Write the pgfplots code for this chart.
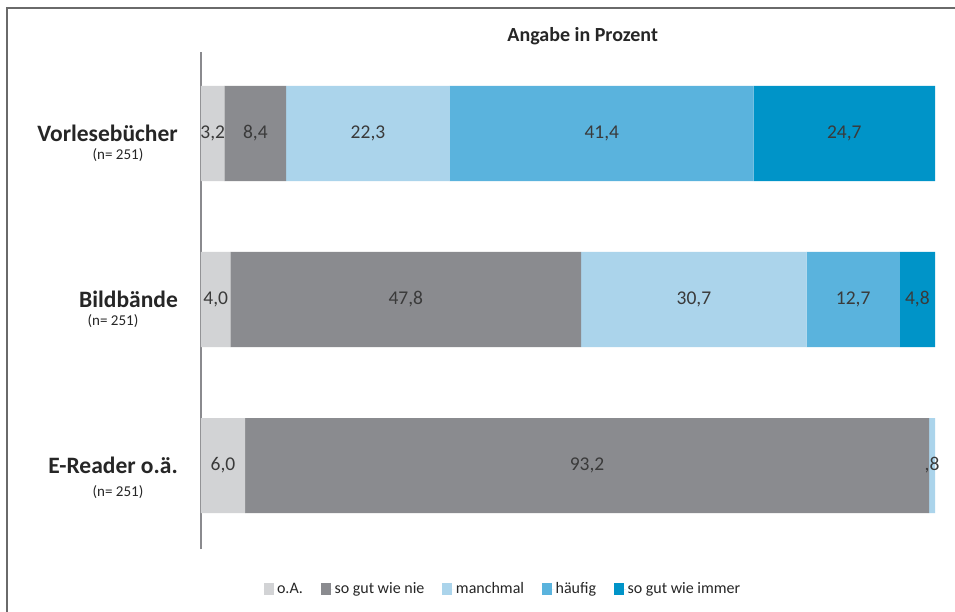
\documentclass[border=0pt]{standalone}
\usepackage{fontspec}
\setmainfont{Carlito}
\usepackage{pgfplots}
\usepackage{pgfplotstable}
\pgfplotsset{compat=1.18}

\definecolor{cOA}{HTML}{D2D3D5}
\definecolor{cNie}{HTML}{8A8B8F}
\definecolor{cManch}{HTML}{ABD4EB}
\definecolor{cHaeuf}{HTML}{5AB3DD}
\definecolor{cImmer}{HTML}{0094C8}
\definecolor{cFrame}{HTML}{6A6A6A}
\definecolor{cAxis}{HTML}{8A8A8E}
\definecolor{cText}{HTML}{262626}
\definecolor{cVal}{HTML}{3A3A3A}

% y: 2 = Vorlesebücher, 1 = Bildbände, 0 = E-Reader o.ä.
\pgfplotstableread{
y v
2 3.2
1 4.0
0 6.0
}\tOA
\pgfplotstableread{
y v
2 8.4
1 47.8
0 93.2
}\tNie
\pgfplotstableread{
y v
2 22.3
1 30.7
0 0.8
}\tManch
\pgfplotstableread{
y v
2 41.4
1 12.7
}\tHaeuf
\pgfplotstableread{
y v
2 24.7
1 4.8
}\tImmer

% common geometry of the bar axis and the label layer
\pgfplotsset{frame geometry/.style={
  at={(0,0)}, anchor=south west,
  scale only axis,
  width=734bp, height=497bp,
  xmin=0, xmax=100,
  ymin=-0.503, ymax=2.491,
  clip=false}}

\begin{document}
\begin{tikzpicture}[x=1bp,y=1bp]
\useasboundingbox (-201bp,-63bp) rectangle (754bp,549bp);
\fill[white] (-201bp,-63bp) rectangle (754bp,549bp);
\draw[cFrame, line width=2bp] (-194bp,-70bp) -- (-194bp,541bp) -- (760bp,541bp);
\begin{axis}[
  frame geometry,
  xbar stacked,
  bar width=95bp,
  axis x line=none,
  axis y line*=left,
  y axis line style={cAxis, line width=1.6bp, -},
  ytick={0,1,2},
  yticklabels={E-Reader o.ä., Bildbände, Vorlesebücher},
  ytick style={draw=none},
  yticklabel style={font=\fontsize{23.5bp}{26bp}\selectfont\bfseries, text=cText,
    anchor=east, inner sep=0pt, xshift=-23bp},
  title={Angabe in Prozent},
  title style={font=\fontsize{20bp}{23bp}\selectfont\bfseries, text=cText,
    at={(0.52,1.020)}, anchor=center, inner sep=0pt},
  legend columns=5,
  legend style={draw=none, fill=none,
    at={(0.411,-0.0805)}, anchor=center,
    font=\fontsize{16bp}{19bp}\selectfont, text=cText,
    /tikz/every even column/.append style={column sep=16.5bp},
    nodes={inner sep=1.5bp}},
  legend image code/.code={\fill[#1] (0bp,-6bp) rectangle (10bp,6bp);
    \path (0bp,0bp) -- (12bp,0bp);},
]
\addplot[fill=cOA, draw=none] table[x=v, y=y] {\tOA};
\addplot[fill=cNie, draw=none] table[x=v, y=y] {\tNie};
\addplot[fill=cManch, draw=none] table[x=v, y=y] {\tManch};
\addplot[fill=cHaeuf, draw=none] table[x=v, y=y] {\tHaeuf};
\addplot[fill=cImmer, draw=none] table[x=v, y=y] {\tImmer};
\legend{o.A., so gut wie nie, manchmal, häufig, so gut wie immer}

\node[font=\fontsize{15bp}{18bp}\selectfont, text=cText] at (axis cs:0,2) [xshift=-83bp, yshift=-21.5bp] {(n= 251)};
\node[font=\fontsize{15bp}{18bp}\selectfont, text=cText] at (axis cs:0,1) [xshift=-88bp, yshift=-21.5bp] {(n= 251)};
\node[font=\fontsize{15bp}{18bp}\selectfont, text=cText] at (axis cs:0,0) [xshift=-83bp, yshift=-26.5bp] {(n= 251)};
\end{axis}

% value labels, each in the middle of its segment
\begin{axis}[
  frame geometry,
  hide axis,
  point meta=explicit symbolic,
  nodes near coords,
  every node near coord/.append style={anchor=center,
    font=\fontsize{19.5bp}{22bp}\selectfont, text=cVal, inner sep=0pt},
]
\addplot[only marks, mark=none] coordinates {
  (1.6,2) [3,2]   (7.4,2) [8,4]   (22.75,2) [22,3] (54.6,2) [41,4] (87.65,2) [24,7]
  (2.0,1) [4,0]   (27.9,1) [47,8] (67.15,1) [30,7] (88.85,1) [12,7] (97.6,1) [4,8]
  (3.0,0) [6,0]   (52.6,0) [93,2] (99.6,0) [,8]
};
\end{axis}
\end{tikzpicture}
\end{document}
